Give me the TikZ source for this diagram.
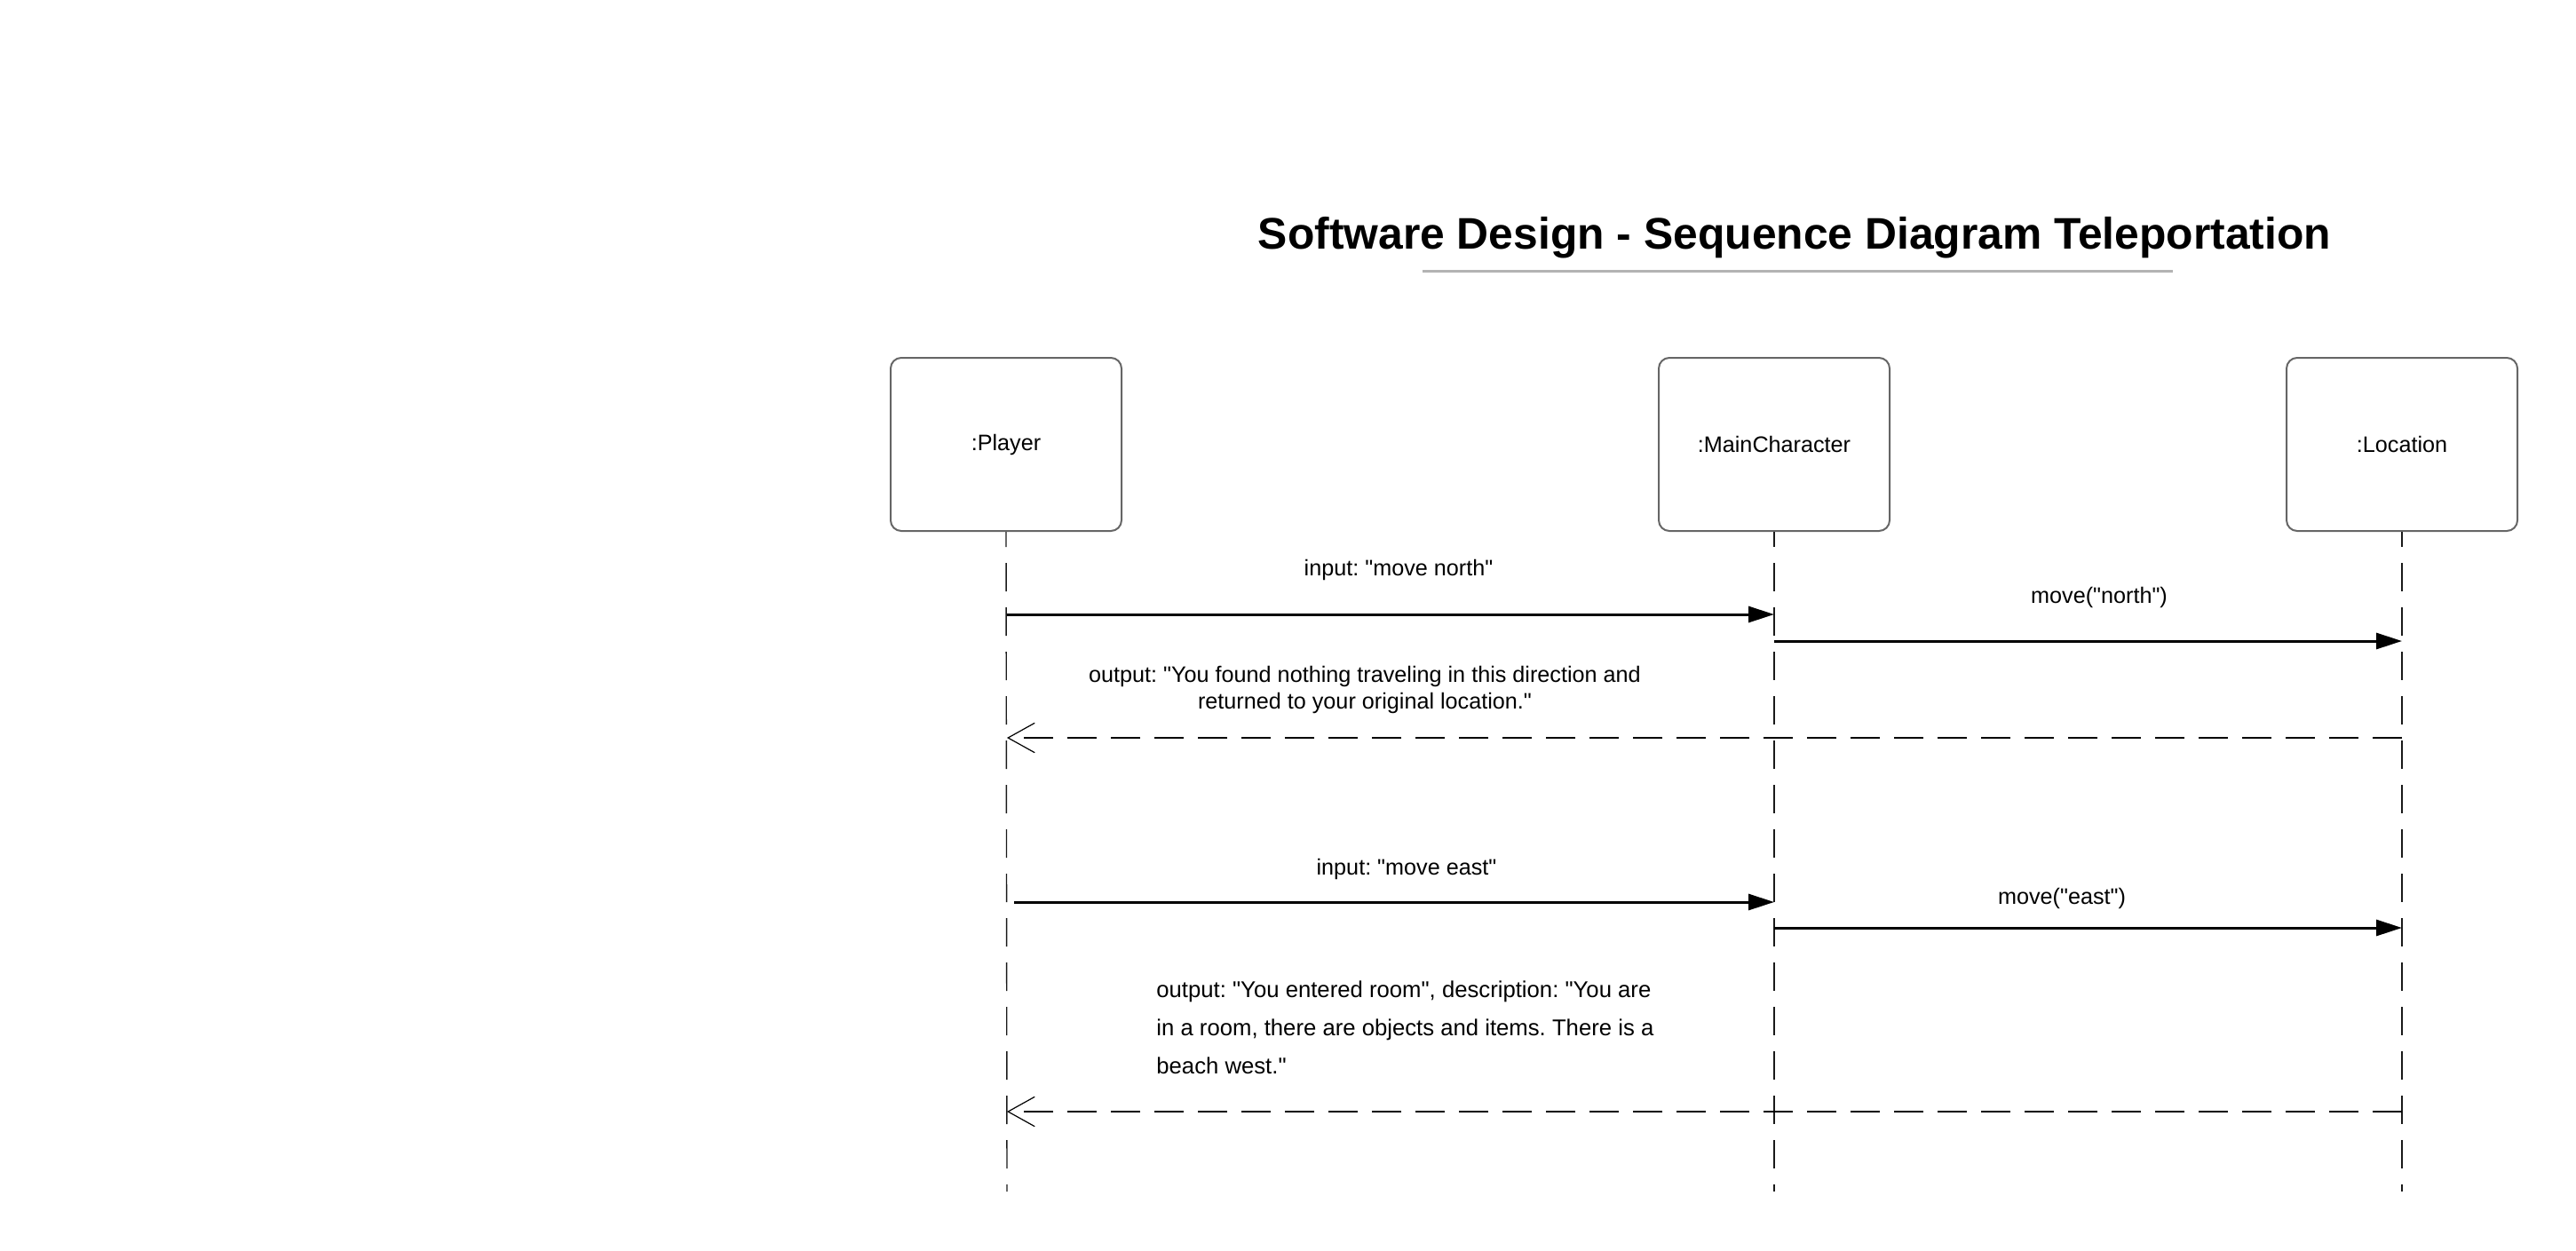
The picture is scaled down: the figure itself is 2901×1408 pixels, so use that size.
\documentclass[tikz,border=0pt]{standalone}
\usepackage{fontspec}
\setmainfont{Liberation Sans}[Ligatures=TeXOff]
\usetikzlibrary{arrows.meta}
\begin{document}
\frenchspacing
\begin{tikzpicture}[x=0.5pt,y=-0.5pt,
  obj/.style={draw=black!60, line width=1pt, rounded corners=6pt,
    minimum width=130pt, minimum height=97.5pt, inner sep=0pt,
    font=\fontsize{12.6}{15}\selectfont},
  lifeline/.style={draw=black!90, line width=0.7pt,
    dash pattern=on 16pt off 9pt, dash phase=7.5pt},
  msg/.style={draw=black, line width=1.5pt,
    -{Triangle[length=14.5pt,width=9pt]}},
  ret/.style={draw=black, line width=1.1pt, dash pattern=on 16.5pt off 8pt,
    -{Straight Barb[length=15pt,width=16.7pt,line width=0.6pt]}},
  lbl/.style={inner sep=0pt, font=\fontsize{12.6}{15}\selectfont},
  titlestyle/.style={inner sep=0pt, font=\fontsize{24.9}{30}\selectfont\bfseries}
]
\useasboundingbox (0,0) rectangle (2901,1408);

% title
\node[titlestyle, anchor=base] (title) at (2021,280) {Software Design - Sequence Diagram Teleportation};
\coordinate (ulA) at (1602,305);
\coordinate (ulB) at (2447,305);
\draw[line width=1.5pt, color={rgb,255:red,179;green,179;blue,179}] (ulA) -- (ulB);

% objects
\node[obj] (player) at (1133,500.5) {:Player};
\node[obj] (mainc)  at (1998,500.5) {:MainCharacter};
\node[obj] (loc)    at (2705,500.5) {:Location};

% lifeline ends
\coordinate (playerEnd) at (1134,1342);
\coordinate (maincEnd)  at (1998,1342);
\coordinate (locEnd)    at (2705,1342);
\draw[lifeline] (player.south) -- (playerEnd);
\draw[lifeline] (mainc.south) -- (maincEnd);
\draw[lifeline] (loc.south) -- (locEnd);

% message points
\coordinate (p1) at (1134,692);
\coordinate (m1) at (1998,692);
\coordinate (m2) at (1998,722);
\coordinate (l2) at (2705,722);
\coordinate (l3) at (2705,831);
\coordinate (p3) at (1134,831);
\coordinate (p4) at (1142,1016);
\coordinate (m4) at (1998,1016);
\coordinate (m5) at (1998,1045);
\coordinate (l5) at (2705,1045);
\coordinate (l6) at (2705,1252);
\coordinate (p6) at (1134,1252);

% messages
\draw[msg] (p1) -- (m1);
\node[lbl] (t1) at (1575,642) {input: "move north"};
\draw[msg] (m2) -- (l2);
\node[lbl] (t2) at (2364,673) {move("north")};
\draw[ret] (l3) -- (p3);
\node[lbl, align=center] (t3) at (1537,777) {output: "You found nothing traveling in this direction and\\returned to your original location."};

\draw[msg] (p4) -- (m4);
\node[lbl] (t4) at (1584,979) {input: "move east"};
\draw[msg] (m5) -- (l5);
\node[lbl] (t5) at (2322,1012) {move("east")};
\draw[ret] (l6) -- (p6);
\node[lbl, align=left, anchor=west, font=\fontsize{12.85}{21.5}\selectfont] (t6) at (1302,1157) {output: "You entered room", description: "You are\\in a room, there are objects and items. There is a\\beach west."};
\end{tikzpicture}
\end{document}
